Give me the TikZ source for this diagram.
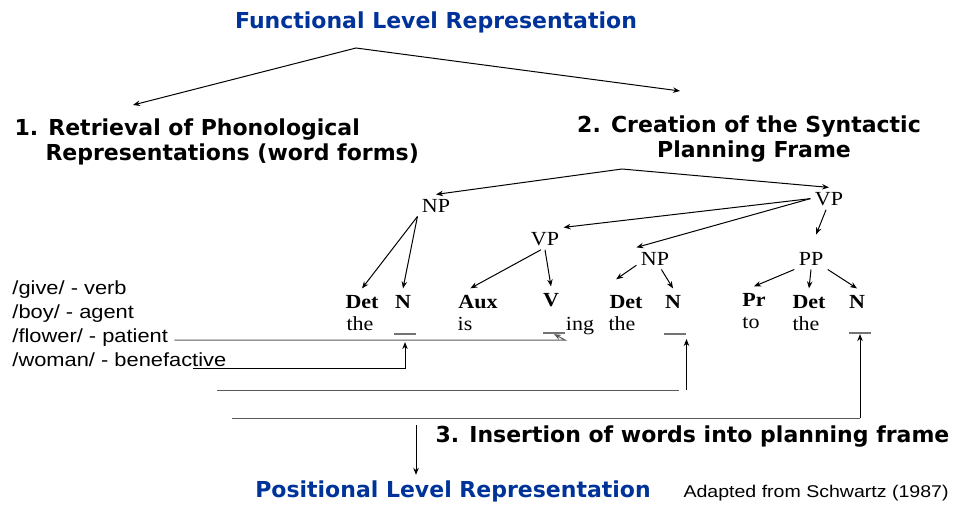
\documentclass[tikz,border=0pt]{standalone}
\usepackage{fontspec}
\setmainfont{Liberation Serif}[FakeStretch=1.1]
\newfontfamily\headfont{DejaVu Sans}
\newfontfamily\listfont{Liberation Sans}[FakeStretch=1.15]
\usetikzlibrary{arrows.meta}
\definecolor{levelblue}{RGB}{0,51,153}

\begin{document}
\begin{tikzpicture}[x=1pt, y=-1pt, >={Stealth[length=7pt, width=5.5pt]}, line width=1pt,
    head/.style={font=\headfont\bfseries\fontsize{22}{24}\selectfont, inner sep=0pt, anchor=base},
    level/.style={head, text=levelblue},
    phrase/.style={font=\fontsize{20}{22}\selectfont, inner sep=4pt, anchor=base},
    cat/.style={font=\bfseries\fontsize{20}{22}\selectfont, inner sep=6pt, anchor=base},
    word/.style={font=\fontsize{20}{22}\selectfont, inner sep=0pt, anchor=base},
    lex/.style={font=\listfont\fontsize{19}{22}\selectfont, inner sep=0pt, anchor=base west},
    blank/.style={fill=black!55, inner sep=0pt, minimum width=22pt, minimum height=1.2pt},
    feed/.style={draw=black!65}]
    \useasboundingbox (0,0) rectangle (965,506);

    \node[level] (func) at (436,28) {Functional Level Representation};
    \node[head, anchor=base west] (ret1) at (14,135) {1. Retrieval of Phonological};
    \node[head, anchor=base west] (ret2) at (45,160) {Representations (word forms)};
    \node[head] (syn1) at (749,132) {2. Creation of the Syntactic};
    \node[head] (syn2) at (754,157) {Planning Frame};
    \coordinate (fl) at (356,48);
    \coordinate (fl1) at (133,105);
    \coordinate (fl2) at (680,91);
    \draw[<->] (fl1) -- (fl) -- (fl2);

    \node[phrase] (np1) at (436,212) {NP};
    \node[phrase] (vp1) at (829,205) {VP};
    \node[phrase] (vp2) at (545,245) {VP};
    \node[phrase] (np2) at (655,265) {NP};
    \node[phrase] (pp) at (811,265) {PP};
    \node[cat] (det1) at (362,308) {Det};
    \node[cat] (n1) at (403,308) {N};
    \node[cat] (aux) at (478,308) {Aux};
    \node[cat] (v) at (551,306) {V};
    \node[cat] (det2) at (626,308) {Det};
    \node[cat] (n2) at (673,308) {N};
    \node[cat] (pr) at (754,306) {Pr};
    \node[cat] (det3) at (809,308) {Det};
    \node[cat] (n3) at (857,308) {N};
    \node[word] (the1) at (360,330) {the};
    \node[word] (is) at (465,330) {is};
    \node[word] (ing) at (580,330) {ing};
    \node[word] (the2) at (622,330) {the};
    \node[word] (to) at (751,328) {to};
    \node[word] (the3) at (806,330) {the};
    \node[blank] (b1) at (405,334) {};
    \node[blank] (b2) at (554,333) {};
    \node[blank] (b3) at (675,334) {};
    \node[blank] (b4) at (860,333) {};

    \coordinate (sf) at (622,169);
    \draw[<->] (np1.north) -- (sf) -- (vp1.north);
    \draw[->] (np1.south west) -- (det1.north);
    \draw[->] (np1.south west) -- (n1.north);
    \draw[->] (vp1.west) -- (vp2.north east);
    \draw[->] (vp1.west) -- (np2.north west);
    \draw[->, shorten >=14pt] (vp1.255) -- (pp.north);
    \draw[->] (vp2.250) -- (aux.120);
    \draw[->] (vp2.south) -- (v.north);
    \draw[->, shorten >=16pt] (np2.200) -- (det2.north west);
    \draw[->] (np2.300) -- (n2.north);
    \draw[->] (pp.south west) -- (pr.north);
    \draw[->] (pp.south) -- (det3.north);
    \draw[->] (pp.south east) -- (n3.north);

    \node[lex] (give) at (12,294) {/give/ - verb};
    \node[lex] (boy) at (12,318) {/boy/ - agent};
    \node[lex] (flower) at (12,342) {/flower/ - patient};
    \node[lex] (woman) at (12,366) {/woman/ - benefactive};

    \coordinate (fj) at (565,340);
    \draw[feed, ->] ([xshift=6pt]flower.east |- fj) -- (fj) -- (b2.south);
    \coordinate (wj) at (193,368);
    \draw[->] (wj) -| ([yshift=-7pt]b1.south);
    \coordinate (l3) at (217,390);
    \draw[feed] (l3) -- ([xshift=-8pt]l3 -| b3.east);
    \draw[->, shorten >=5pt] (l3 -| b3.east) -- (b3.east);
    \coordinate (l4) at (232,418);
    \draw[feed] (l4) -- (l4 -| b4);
    \draw[->] (l4 -| b4) -- (b4.south);

    \node[head, anchor=base west] (ins) at (435,442) {3. Insertion of words into planning frame};
    \node[level] (pos) at (453,497) {Positional Level Representation};
    \node[lex, font=\listfont\fontsize{17}{20}\selectfont] (src) at (683,497) {Adapted from Schwartz (1987)};
    \coordinate (dn) at (416,425);
    \draw[->, shorten >=5pt] (dn) -- (dn |- pos.north);
\end{tikzpicture}
\end{document}
